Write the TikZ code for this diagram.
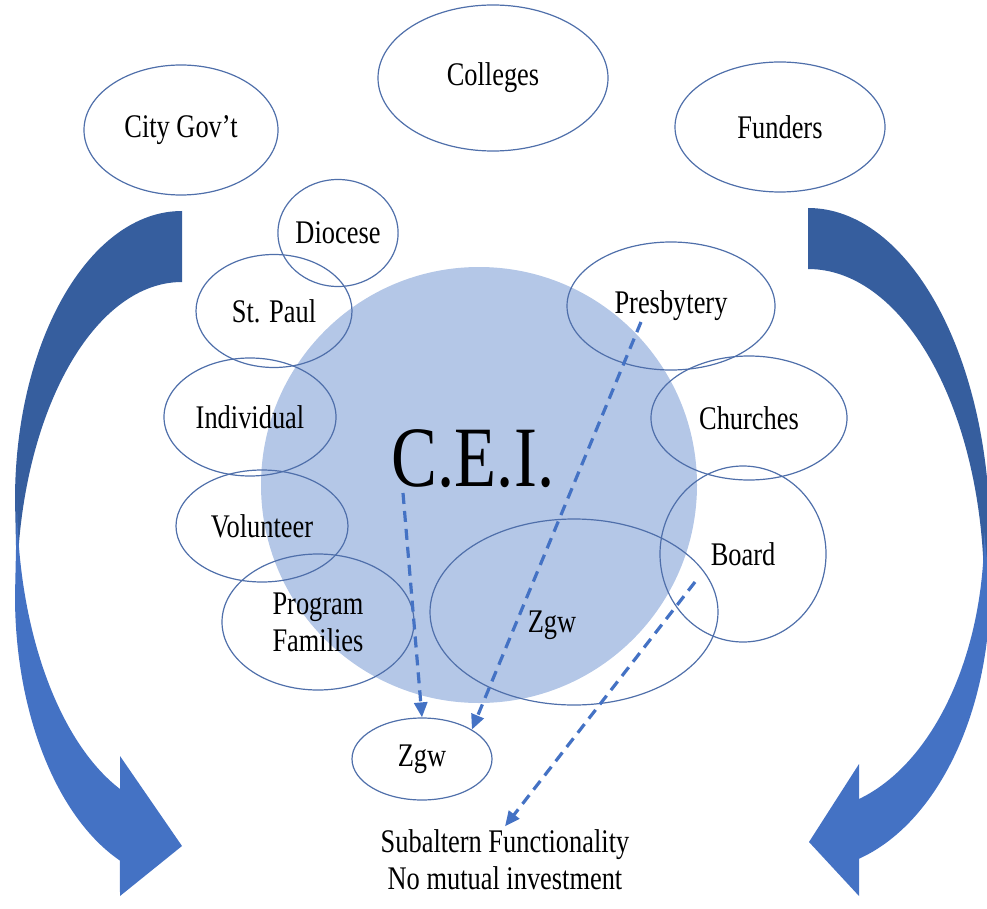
\documentclass[tikz,border=0pt]{standalone}
\usepackage{fontspec}
\usetikzlibrary{arrows.meta,shapes.geometric}
\newfontfamily\lblfont[FakeStretch=0.8]{Liberation Serif}
\definecolor{rim}{HTML}{4F6FAA}
\definecolor{core}{HTML}{B4C7E7}
\definecolor{deep}{HTML}{365E9E}
\definecolor{bright}{HTML}{4472C4}
\tikzset{
 party/.style={ellipse,draw=rim,line width=1.2pt,inner sep=0pt,align=center,
   font=\lblfont\fontsize{33}{37}\selectfont},
 flow/.style={draw=bright,line width=3.2pt,dash pattern=on 11pt off 7pt,
   -{Triangle[length=15pt,width=13pt]}},
}
\begin{document}
\begin{tikzpicture}[x=1pt,y=-1pt]
 \useasboundingbox(0,0)rectangle(987,909);
 \clip(0,0)rectangle(987,909);
 \node[circle,fill=core,minimum size=436pt,inner sep=0pt](hub)at(479,485){};
 \node[anchor=base,font=\lblfont\fontsize{86}{90}\selectfont](cei)at(473,486){C.E.I.};
 % curved arrows, back half darker
 \fill[deep](182,211)arc[start angle=-90,end angle=-180,x radius=167,y radius=289]--(17,591)
   arc[start angle=180,end angle=270,x radius=165,y radius=309]--cycle;
 \fill[bright](15,596)arc[start angle=180,end angle=111.8,x radius=167,y radius=285]
   --(120,896)--(182,846)--(120,756)--(120,789)
   arc[start angle=112.1,end angle=180,x radius=165,y radius=312]--cycle;
 \fill[deep](808,208)arc[start angle=-90,end angle=0,x radius=182,y radius=330]--(984,590)
   arc[start angle=0,end angle=-90,x radius=176,y radius=321]--cycle;
 \fill[bright](990,589)arc[start angle=0,end angle=73.7,x radius=182,y radius=281]
   --(859,896)--(809,842)--(859,764)--(859,799)
   arc[start angle=73.2,end angle=0,x radius=176,y radius=279]--cycle;
 % stakeholders
 \node[party,minimum width=230pt,minimum height=146pt](colleges)at(493,78){Colleges};
 \node[party,minimum width=194pt,minimum height=130pt](citygov)at(181,130){City Gov’t};
 \node[party,minimum width=210pt,minimum height=130pt](funders)at(780,127){Funders};
 \node[party,minimum width=104pt,minimum height=107pt](diocese)at(338,233){Diocese};
 \node[party,minimum width=156pt,minimum height=113pt](stpaul)at(274,311){St. Paul};
 \node[party,minimum width=172pt,minimum height=118pt](individual)at(250,417){Individual};
 \node[party,minimum width=172pt,minimum height=112pt](volunteer)at(262,526){Volunteer};
 \node[party,minimum width=192pt,minimum height=136pt](families)at(318,622){Program\\Families};
 \node[party,minimum width=208pt,minimum height=128pt](presbytery)at(671,306){Presbytery};
 \node[party,minimum width=196pt,minimum height=124pt](churches)at(749,418){Churches};
 \node[party,minimum width=166pt,minimum height=176pt](board)at(743,554){Board};
 \node[party,minimum width=288pt,minimum height=186pt](zgwA)at(574,612){};
 \node[font=\lblfont\fontsize{33}{37}\selectfont](zgwAlbl)at(552,625){Zgw};
 \node[party,minimum width=140pt,minimum height=82pt](zgwB)at(422,759){Zgw};
 \node[align=center,font=\lblfont\fontsize{33}{37}\selectfont](note)at(505,860)
   {Subaltern Functionality\\No mutual investment};
 \coordinate(ceifoot)at(403,493);
 \coordinate(presfoot)at(641,322);
 \coordinate(boardfoot)at(695,582);
 \draw[flow](ceifoot)--(zgwB.north);
 \draw[flow](presfoot)--(zgwB.north east);
 \draw[flow](boardfoot)--(note.north);
\end{tikzpicture}
\end{document}
